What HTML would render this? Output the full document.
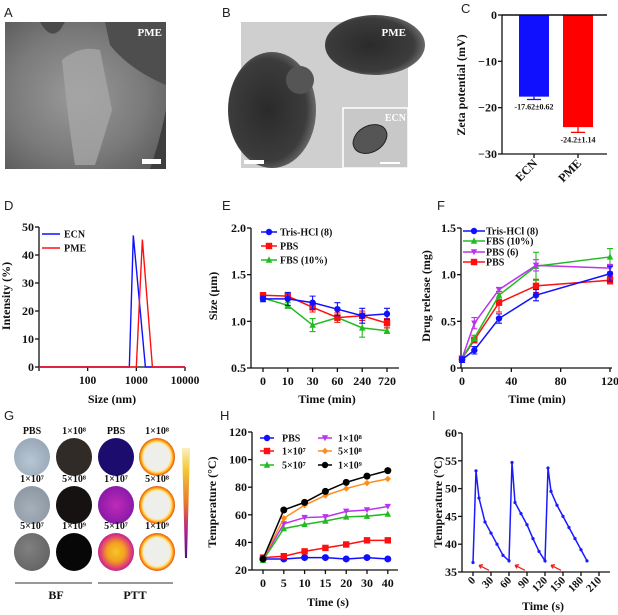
<!DOCTYPE html>
<html><head><meta charset="utf-8">
<style>
html,body{margin:0;padding:0;background:#fff;}
svg{display:block;}
.t{font-family:"Liberation Serif",serif;font-weight:bold;fill:#111;}
.p{font-family:"Liberation Sans",sans-serif;font-size:13px;fill:#222;}
</style></head>
<body>
<svg id="fig" width="618" height="615" viewBox="0 0 618 615" xmlns="http://www.w3.org/2000/svg">
<defs>
 <radialGradient id="gA" cx="45%" cy="50%" r="70%"><stop offset="0" stop-color="#9a9a9a"/><stop offset="0.6" stop-color="#7a7a7a"/><stop offset="1" stop-color="#5a5a5a"/></radialGradient>
 <radialGradient id="blob" cx="45%" cy="50%" r="55%"><stop offset="0" stop-color="#2a2a2a"/><stop offset="0.8" stop-color="#3c3c3c"/><stop offset="1" stop-color="#6a6a6a"/></radialGradient>
 <radialGradient id="ring" cx="50%" cy="50%" r="50%"><stop offset="0" stop-color="#eeeeea"/><stop offset="0.72" stop-color="#eeeeea"/><stop offset="0.8" stop-color="#ffe27a"/><stop offset="0.9" stop-color="#ff9a10"/><stop offset="1" stop-color="#e05010"/></radialGradient>
 <radialGradient id="hot" cx="50%" cy="50%" r="50%"><stop offset="0" stop-color="#f7c52a"/><stop offset="0.5" stop-color="#f2a020"/><stop offset="0.85" stop-color="#e04070"/><stop offset="1" stop-color="#c0209a"/></radialGradient>
 <radialGradient id="purp" cx="50%" cy="50%" r="50%"><stop offset="0" stop-color="#c02ab8"/><stop offset="1" stop-color="#8a1aa8"/></radialGradient>
 <radialGradient id="bf1" cx="45%" cy="60%" r="60%"><stop offset="0" stop-color="#b8c6d2"/><stop offset="1" stop-color="#98a8b8"/></radialGradient>
 <radialGradient id="bf2" cx="45%" cy="60%" r="60%"><stop offset="0" stop-color="#a6b0ba"/><stop offset="1" stop-color="#8c98a4"/></radialGradient>
 <radialGradient id="bf3" cx="40%" cy="40%" r="60%"><stop offset="0" stop-color="#808080"/><stop offset="1" stop-color="#666"/></radialGradient>
 <linearGradient id="cbar" x1="0" y1="0" x2="0" y2="1"><stop offset="0" stop-color="#f8f0c0"/><stop offset="0.2" stop-color="#f2c838"/><stop offset="0.5" stop-color="#e8782a"/><stop offset="0.75" stop-color="#b82088"/><stop offset="1" stop-color="#3a1a8a"/></linearGradient>
</defs>

<text class="p" x="4" y="17">A</text>
<g>
 <rect x="5" y="22" width="161" height="147" fill="url(#gA)"/>
 <path d="M5 22 L40 22 Q50 40 60 30 L65 22 L5 22Z" fill="#4a4a4a"/>
 <path d="M105 22 L166 22 L166 85 Q130 70 110 45Z" fill="#4e4e4e"/>
 <path d="M166 110 L166 169 L150 169 Q160 140 166 110Z" fill="#3e3e3e"/>
 <path d="M62 60 Q80 45 100 50 L112 110 Q100 150 95 165 L75 165 Q68 120 62 60Z" fill="#a8a8a8" opacity="0.75"/>
 <rect x="142" y="159" width="19" height="5" fill="#fff"/>
 <text class="t" x="162" y="36" font-size="11" text-anchor="end" style="fill:#fff">PME</text>
</g>

<text class="p" x="222" y="17">B</text>
<g>
 <rect x="241" y="22" width="167" height="146" fill="#cfcfcf"/>
 <ellipse cx="272" cy="110" rx="44" ry="58" fill="url(#blob)"/>
 <circle cx="300" cy="80" r="14" fill="#555"/>
 <ellipse cx="375" cy="45" rx="50" ry="30" fill="url(#blob)"/>
 <rect x="244" y="160" width="20" height="4" fill="#fff"/>
 <rect x="343" y="108" width="65" height="60" fill="#c8c8c8" stroke="#fff" stroke-width="1.5"/>
 <ellipse cx="370" cy="139" rx="18" ry="13" transform="rotate(-30 370 139)" fill="#555" stroke="#222"/>
 <text class="t" x="406" y="36" font-size="11" text-anchor="end" style="fill:#fff">PME</text>
 <text class="t" x="406" y="121" font-size="10" text-anchor="end" style="fill:#fff">ECN</text>
 <rect x="380" y="162" width="20" height="2" fill="#fff"/>
</g>

<text class="p" x="461" y="13">C</text>
<text class="p" x="4" y="210">D</text>
<text class="p" x="222" y="210">E</text>
<text class="p" x="437" y="210">F</text>
<text class="p" x="4" y="420">G</text>
<text class="p" x="220" y="420">H</text>
<text class="p" x="432" y="420">I</text>

<g id="gpanel"></g>
<polygon points="182,448 190,448 187,558 185,558" fill="url(#cbar)"/>
<line x1="15" y1="583" x2="92" y2="583" stroke="#777" stroke-width="1.5"/>
<line x1="98" y1="583" x2="173" y2="583" stroke="#777" stroke-width="1.5"/>
<text class="t" x="56" y="599" font-size="12" text-anchor="middle">BF</text>
<text class="t" x="135" y="599" font-size="12" text-anchor="middle">PTT</text>

<g id="charts"></g>
</svg>

<script>
const zetaCats = ["ECN", "PME"];
const zetaVals = [-17.62, -24.2];
const zetaErr = [0.62, 1.14];
const zetaLabels = ["-17.62±0.62", "-24.2±1.14"];
const zetaTicks = [0, -10, -20, -30];

const dlsTicks = [100, 1000, 10000];
const dlsYTicks = [0, 10, 20, 30, 40, 50];
const dlsEcnX = [10, 718, 867, 1535, 10000];
const dlsEcnY = [0, 0, 47, 0, 0];
const dlsPmeX = [10, 1000, 1330, 2140, 10000];
const dlsPmeY = [0, 0, 45.5, 0, 0];

const sizeCats = ["0", "10", "30", "60", "240", "720"];
const sizeTris = [1.24, 1.24, 1.20, 1.13, 1.06, 1.08];
const sizeTrisErr = [0.03, 0.07, 0.07, 0.07, 0.08, 0.06];
const sizePbs = [1.28, 1.27, 1.15, 1.04, 1.06, 0.98];
const sizePbsErr = [0.02, 0.03, 0.05, 0.05, 0.05, 0.05];
const sizeFbs = [1.25, 1.17, 0.96, 1.04, 0.93, 0.90];
const sizeFbsErr = [0.02, 0.03, 0.07, 0.03, 0.10, 0.03];
const sizeYTicks = [0.5, 1.0, 1.5, 2.0];

const relTimes = [0, 10, 30, 60, 120];
const relTris = [0.09, 0.19, 0.53, 0.78, 1.01];
const relTrisErr = [0.03, 0.04, 0.05, 0.06, 0.08];
const relFbs = [0.10, 0.32, 0.78, 1.09, 1.19];
const relFbsErr = [0.02, 0.03, 0.04, 0.15, 0.09];
const relPbs6 = [0.10, 0.48, 0.84, 1.10, 1.07];
const relPbs6Err = [0.02, 0.06, 0.02, 0.06, 0.04];
const relPbs = [0.10, 0.30, 0.70, 0.88, 0.94];
const relPbsErr = [0.02, 0.03, 0.10, 0.07, 0.04];
const relXTicks = [0, 40, 80, 120];
const relYTicks = [0, 0.5, 1.0, 1.5];

const heatCats = ["0", "5", "10", "15", "20", "30", "40"];
const heatPbs = [28, 28, 29, 29, 28, 29, 28];
const heat1e7 = [29, 30, 33.5, 36, 38.5, 41.5, 41.5];
const heat5e7 = [27, 50, 53, 55.5, 58.5, 59, 60.5];
const heat1e8 = [28, 53.5, 58, 58.5, 62.5, 63.5, 66];
const heat5e8 = [28, 57.5, 67, 74, 79, 83, 86];
const heat1e9 = [28, 63.5, 69, 77, 83.5, 88, 92];
const heatYTicks = [20, 40, 60, 80, 100, 120];

const cycTimes = [0, 5, 10, 20, 30, 40, 50, 60, 65, 70, 80, 90, 100, 110, 120, 125, 130, 140, 150, 160, 170, 180, 190];
const cycTemps = [36.7, 53.2, 48.3, 44, 42, 40, 38, 37, 54.7, 47.5, 45.5, 43.5, 41, 38.7, 37, 53.7, 49.5, 47, 45, 43, 41, 39, 37];
const cycArrowT = [0, 60, 120];
const cycXTicks = [0, 30, 60, 90, 120, 150, 180, 210];
const cycYTicks = [35, 40, 45, 50, 55, 60];

const gLabels = [["PBS","1×10⁸","PBS","1×10⁸"],["1×10⁷","5×10⁸","1×10⁷","5×10⁸"],["5×10⁷","1×10⁹","5×10⁷","1×10⁹"]];

const NS = "http://www.w3.org/2000/svg";
const root = document.getElementById("charts");
const TS = 12;
function mk(tag, attrs, parent) {
  const e = document.createElementNS(NS, tag);
  for (const k in attrs) e.setAttribute(k, attrs[k]);
  (parent || root).appendChild(e);
  return e;
}
function txt(s, x, y, size, anchor, parent, extra) {
  const e = mk("text", Object.assign({x: x, y: y, "font-size": size, "text-anchor": anchor || "middle", class: "t"}, extra || {}), parent);
  e.textContent = s;
  return e;
}
function lin(x0, x1, d0, d1) { return v => x0 + (v - d0) / (d1 - d0) * (x1 - x0); }

function yAxis(g, x, ys, ticks, fmt, y0, y1) {
  const a = mk("line", {x1: x, x2: x, y1: y0, y2: y1, stroke: "#111", "stroke-width": 1.3}, g);
  
  
  ticks.forEach(t => {
    mk("line", {x1: x - 4, x2: x, y1: ys(t), y2: ys(t), stroke: "#111", "stroke-width": 1.3}, g);
    const l = txt(fmt(t), x - 5, ys(t) + 4, TS, "end", g);
    
    
  });
}
function xAxisLine(g, y, x0, x1) {
  const a = mk("line", {x1: x0, x2: x1, y1: y, y2: y, stroke: "#111", "stroke-width": 1.3}, g);
  
  
}
function yTitle(g, s, x, y) {
  const e = txt(s, x, y, 12, "middle", g, {transform: "rotate(-90 " + x + " " + y + ")"});
  
  
}
function xTitle(g, s, x, y) {
  const e = txt(s, x, y, 12, "middle", g);
  
  
}
function marker(g, type, x, y, color, r) {
  r = r || 3.2;
  let e;
  if (type === "circle") e = mk("circle", {cx: x, cy: y, r: r, fill: color}, g);
  else if (type === "square") e = mk("rect", {x: x - r, y: y - r, width: 2 * r, height: 2 * r, fill: color}, g);
  else if (type === "tri") e = mk("polygon", {points: `${x},${y - r - 0.5} ${x - r},${y + r - 0.5} ${x + r},${y + r - 0.5}`, fill: color}, g);
  else if (type === "itri") e = mk("polygon", {points: `${x},${y + r} ${x - r},${y - r + 0.5} ${x + r},${y - r + 0.5}`, fill: color}, g);
  else e = mk("polygon", {points: `${x},${y - r} ${x + r},${y} ${x},${y + r} ${x - r},${y}`, fill: color}, g);
  return e;
}
function series(g, name, xs, ys, vals, errs, color, type, xfun, yfun, r) {
  const sg = mk("g", {}, g);
  
  
  const pts = vals.map((v, i) => [xfun(xs[i], i), yfun(v)]);
  mk("polyline", {points: pts.map(p => p.join(",")).join(" "), fill: "none", stroke: color, "stroke-width": 1.5}, sg);
  if (errs) vals.forEach((v, i) => {
    const x = pts[i][0], a = yfun(v + errs[i]), b = yfun(v - errs[i]);
    mk("path", {d: `M${x} ${a} V${b} M${x - 3} ${a} h6 M${x - 3} ${b} h6`, stroke: color, "stroke-width": 1.1, fill: "none"}, sg);
  });
  pts.forEach(p => {
    const m = marker(sg, type, p[0], p[1], color, r);
    
    
  });
}
function legend(g, name, x, y, color, type, label, len, tx) {
  const lg = mk("g", {}, g);
  
  
  mk("line", {x1: x - len / 2, x2: x + len / 2, y1: y, y2: y, stroke: color, "stroke-width": 1.5}, lg);
  if (type) marker(lg, type, x, y, color, 3.2);
  txt(label, tx, y + 3.5, 10, "start", lg);
}

(function () {
  const g = mk("g", {});
  
  
  const ys = lin(15, 154, 0, -30);
  const colors = ["#1010ff", "#ff0000"];
  const cx = i => 534 + i * 44;
  zetaCats.forEach((c, i) => {
    const b = mk("rect", {x: cx(i) - 15, y: ys(0), width: 30, height: ys(zetaVals[i]) - ys(0), fill: colors[i]}, g);
    
    
    const ye = ys(zetaVals[i] - zetaErr[i]);
    mk("path", {d: `M${cx(i)} ${ys(zetaVals[i])} V${ye} M${cx(i) - 7} ${ye} h14`, stroke: colors[i], "stroke-width": 1.3, fill: "none"}, g);
    const l = txt(zetaLabels[i], cx(i), ye + 10, 8, "middle", g);
    
    
    mk("line", {x1: cx(i), x2: cx(i), y1: 154, y2: 158, stroke: "#111", "stroke-width": 1.3}, g);
    const tl = txt(c, cx(i) + 4, 164, TS, "end", g, {transform: `rotate(-45 ${cx(i) + 4} 164)`});
    
    
  });
  yAxis(g, 502, ys, zetaTicks, t => t === 0 ? "0" : "−" + Math.abs(t), 15, 154);
  mk("line", {x1: 502, x2: 607, y1: ys(0), y2: ys(0), stroke: "#111", "stroke-width": 1.6}, g);
  xAxisLine(g, 154, 502, 607);
  yTitle(g, "Zeta potential (mV)", 465, 85);
})();

(function () {
  const g = mk("g", {});
  
  
  const xs = v => 39 + (Math.log10(v) - 1) / 3 * 146;
  const ys = lin(367, 227, 0, 50);
  yAxis(g, 39, ys, dlsYTicks, t => String(t), 227, 367);
  xAxisLine(g, 367, 39, 185);
  dlsTicks.forEach(t => {
    mk("line", {x1: xs(t), x2: xs(t), y1: 367, y2: 371, stroke: "#111", "stroke-width": 1.3}, g);
    const l = txt(String(t), xs(t), 384, 11.5, "middle", g);
    
    
  });
  mk("line", {x1: 39, x2: 39, y1: 367, y2: 371, stroke: "#111", "stroke-width": 1.3}, g);
  const e = mk("polyline", {points: dlsEcnX.map((v, i) => xs(v) + "," + ys(dlsEcnY[i])).join(" "), fill: "none", stroke: "#1010ff", "stroke-width": 1.4}, g);
  
  
  const p = mk("polyline", {points: dlsPmeX.map((v, i) => xs(v) + "," + ys(dlsPmeY[i])).join(" "), fill: "none", stroke: "#ff1010", "stroke-width": 1.4}, g);
  
  
  legend(g, "legend-entry-ecn", 51, 234, "#1010ff", null, "ECN", 18, 64);
  legend(g, "legend-entry-pme", 51, 248, "#ff1010", null, "PME", 18, 64);
  yTitle(g, "Intensity (%)", 10, 296);
  xTitle(g, "Size (nm)", 112, 403);
})();

(function () {
  const g = mk("g", {});
  
  
  const xs = (v, i) => 263 + i * 24.8;
  const ys = lin(368, 228, 0.5, 2.0);
  yAxis(g, 251, ys, sizeYTicks, t => t.toFixed(1), 228, 368);
  xAxisLine(g, 368, 251, 399);
  sizeCats.forEach((c, i) => {
    mk("line", {x1: xs(0, i), x2: xs(0, i), y1: 368, y2: 372, stroke: "#111", "stroke-width": 1.3}, g);
    const l = txt(c, xs(0, i), 385, TS, "middle", g);
    
    
  });
  series(g, "series-fbs", sizeCats, null, sizeFbs, sizeFbsErr, "#22bb22", "tri", xs, ys);
  series(g, "series-pbs", sizeCats, null, sizePbs, sizePbsErr, "#ff1010", "square", xs, ys);
  series(g, "series-tris-hcl", sizeCats, null, sizeTris, sizeTrisErr, "#1010ff", "circle", xs, ys);
  legend(g, "legend-entry-tris-hcl", 269, 232, "#1010ff", "circle", "Tris-HCl (8)", 16, 280);
  legend(g, "legend-entry-pbs", 269, 246, "#ff1010", "square", "PBS", 16, 280);
  legend(g, "legend-entry-fbs", 269, 260, "#22bb22", "tri", "FBS (10%)", 16, 280);
  yTitle(g, "Size (µm)", 217, 296);
  xTitle(g, "Time (min)", 327, 403);
})();

(function () {
  const g = mk("g", {});
  
  
  const xs = lin(462, 610, 0, 120);
  const ys = lin(368, 228, 0, 1.5);
  const xf = v => xs(v);
  yAxis(g, 461, ys, relYTicks, t => t === 0 ? "0" : t.toFixed(1), 228, 368);
  xAxisLine(g, 368, 461, 612);
  relXTicks.forEach(t => {
    mk("line", {x1: xs(t), x2: xs(t), y1: 368, y2: 372, stroke: "#111", "stroke-width": 1.3}, g);
    const l = txt(String(t), xs(t), 385, TS, "middle", g);
    
    
  });
  series(g, "series-pbs", relTimes, null, relPbs, relPbsErr, "#ff1010", "square", xf, ys);
  series(g, "series-fbs", relTimes, null, relFbs, relFbsErr, "#22bb22", "tri", xf, ys);
  series(g, "series-pbs-6", relTimes, null, relPbs6, relPbs6Err, "#bb33ee", "itri", xf, ys);
  series(g, "series-tris-hcl", relTimes, null, relTris, relTrisErr, "#1010ff", "circle", xf, ys);
  legend(g, "legend-entry-tris-hcl", 474, 231, "#1010ff", "circle", "Tris-HCl (8)", 22, 486);
  legend(g, "legend-entry-fbs", 474, 241, "#22bb22", "tri", "FBS (10%)", 22, 486);
  legend(g, "legend-entry-pbs-6", 474, 252, "#bb33ee", "itri", "PBS (6)", 22, 486);
  legend(g, "legend-entry-pbs", 474, 262, "#ff1010", "square", "PBS", 22, 486);
  yTitle(g, "Drug release (mg)", 430, 296);
  xTitle(g, "Time (min)", 537, 403);
})();

(function () {
  const g = document.getElementById("gpanel");
  const fills = [["url(#bf1)", "#302b27", "#1c0c6e", "url(#ring)"], ["url(#bf2)", "#161212", "url(#purp)", "url(#ring)"], ["url(#bf3)", "#070707", "url(#hot)", "url(#ring)"]];
  const cxs = [32, 74, 116, 157], cys = [457, 505, 552];
  for (let r = 0; r < 3; r++) for (let c = 0; c < 4; c++) {
    const e = mk("ellipse", {cx: cxs[c], cy: cys[r], rx: 18, ry: 19, fill: fills[r][c]}, g);
    
    
    const l = txt(gLabels[r][c], cxs[c], cys[r] - 23, 10, "middle", g);
    
    
  }
})();

(function () {
  const g = mk("g", {});
  
  
  const xs = (v, i) => 263 + i * 20.8;
  const ys = lin(570, 432, 20, 120);
  yAxis(g, 252, ys, heatYTicks, t => String(t), 432, 570);
  xAxisLine(g, 570, 252, 398);
  heatCats.forEach((c, i) => {
    mk("line", {x1: xs(0, i), x2: xs(0, i), y1: 570, y2: 574, stroke: "#111", "stroke-width": 1.3}, g);
    const l = txt(c, xs(0, i), 587, TS, "middle", g);
    
    
  });
  series(g, "series-pbs", heatCats, null, heatPbs, null, "#1010ff", "circle", xs, ys, 3.5);
  series(g, "series-1e7", heatCats, null, heat1e7, null, "#ff1010", "square", xs, ys);
  series(g, "series-5e7", heatCats, null, heat5e7, null, "#22bb22", "tri", xs, ys);
  series(g, "series-1e8", heatCats, null, heat1e8, null, "#bb33ee", "itri", xs, ys);
  series(g, "series-5e8", heatCats, null, heat5e8, null, "#ff8c1a", "diamond", xs, ys);
  series(g, "series-1e9", heatCats, null, heat1e9, null, "#000000", "circle", xs, ys, 3.5);
  legend(g, "legend-entry-pbs", 267, 438, "#1010ff", "circle", "PBS", 14, 282);
  legend(g, "legend-entry-1e7", 267, 451, "#ff1010", "square", "1×10⁷", 14, 282);
  legend(g, "legend-entry-5e7", 267, 465, "#22bb22", "tri", "5×10⁷", 14, 282);
  legend(g, "legend-entry-1e8", 325, 438, "#bb33ee", "itri", "1×10⁸", 14, 338);
  legend(g, "legend-entry-5e8", 325, 451, "#ff8c1a", "diamond", "5×10⁸", 14, 338);
  legend(g, "legend-entry-1e9", 325, 465, "#000000", "circle", "1×10⁹", 14, 338);
  yTitle(g, "Temperature (°C)", 216, 502);
  xTitle(g, "Time (s)", 328, 606);
})();

(function () {
  const g = mk("g", {});
  
  
  const xs = lin(473, 599, 0, 210);
  const ys = lin(572, 433, 35, 60);
  yAxis(g, 462, ys, cycYTicks, t => String(t), 433, 572);
  xAxisLine(g, 572, 462, 610);
  cycXTicks.forEach(t => {
    mk("line", {x1: xs(t), x2: xs(t), y1: 572, y2: 576, stroke: "#111", "stroke-width": 1.3}, g);
    const l = txt(String(t), xs(t) + 3, 581, 11, "end", g, {transform: `rotate(-45 ${xs(t) + 3} 581)`});
    
    
  });
  const sg = mk("g", {}, g);
  
  
  mk("polyline", {points: cycTimes.map((t, i) => xs(t) + "," + ys(cycTemps[i])).join(" "), fill: "none", stroke: "#1a1aff", "stroke-width": 1.5}, sg);
  cycTimes.forEach((t, i) => {
    const m = mk("circle", {cx: xs(t), cy: ys(cycTemps[i]), r: 1.6, fill: "#1a1aff"}, sg);
    
    
  });
  cycArrowT.forEach(t => {
    const x = xs(t) + 6, y = ys(36.2);
    const a = mk("path", {d: `M${x + 10} ${y + 5} L${x} ${y} M${x} ${y} l4 -0.5 M${x} ${y} l2 3`, stroke: "#ee2020", "stroke-width": 1.3, fill: "none"}, g);
    
    
  });
  yTitle(g, "Temperature (°C)", 442, 502);
  xTitle(g, "Time (s)", 543, 610);
})();
</script>
</body></html>
